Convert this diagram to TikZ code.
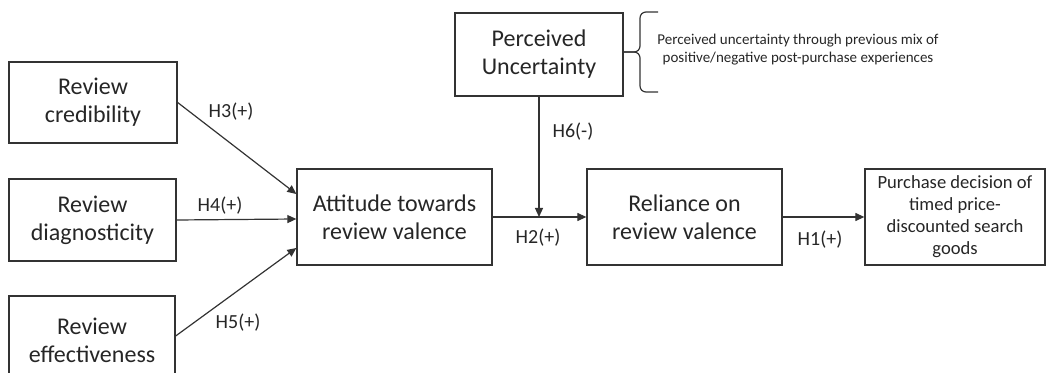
\documentclass[tikz,border=0pt]{standalone}
\usepackage{fontspec}
\setmainfont{Carlito}
\usetikzlibrary{arrows.meta, decorations.pathreplacing, positioning}

\begin{document}
\begin{tikzpicture}[x=0.5pt, y=-0.5pt,
    box/.style={draw=black!80, line width=0.65pt, align=center, inner sep=0pt, text=black!85, font=\fontsize{12}{14}\selectfont},
    arr/.style={draw=black!80, line width=0.6pt, -{Triangle[length=4.5pt, width=4pt]}},
    hyp/.style={text=black!85, font=\fontsize{10}{12}\selectfont}]
\useasboundingbox (0,0) rectangle (1047,373);

\node[box, minimum width=84pt, minimum height=40.5pt] (cred) at (93,102.5) {Review\\credibility};
\node[box, minimum width=83.5pt, minimum height=41pt] (diag) at (92.5,220) {Review\\diagnosticity};
\node[box, minimum width=83pt, minimum height=44pt] (eff) at (92,340) {Review\\effectiveness};
\node[box, minimum width=97.5pt, minimum height=48pt] (att) at (394.5,217) {Attitude towards\\review valence};
\node[box, minimum width=84pt, minimum height=41.5pt] (pu) at (539,54.5) {Perceived\\Uncertainty};
\node[box, minimum width=97.5pt, minimum height=48pt] (rel) at (684.5,217) {Reliance on\\review valence};
\node[box, minimum width=90pt, minimum height=48pt, font=\fontsize{9.3}{11}\selectfont] (pur) at (955,217) {Purchase decision of\\timed price-\\discounted search\\goods};

\draw[arr] (cred.east) -- ([yshift=11.5pt]att.west);
\draw[arr] (diag.east) -- ([yshift=-1pt]att.west);
\draw[arr] ([yshift=2pt]eff.east) -- ([yshift=-15.5pt]att.west);
\draw[arr] (att.east) -- (rel.west);
\draw[arr] (pu.south) -- (pu.south |- att.east);
\draw[arr] (rel.east) -- (pur.west);

\node[hyp] (h3) at (231,112) {H3(+)};
\node[hyp] (h4) at (220,206) {H4(+)};
\node[hyp] (h5) at (238,323) {H5(+)};
\node[hyp] (h2) at (538,238) {H2(+)};
\node[hyp] (h6) at (573,132) {H6(-)};
\node[hyp] (h1) at (820,240) {H1(+)};

\draw[black!80, line width=0.6pt, rounded corners=3pt] (658,12) -- (640,12) -- (640,52) -- (624,52);
\draw[black!80, line width=0.6pt, rounded corners=3pt] (658,92) -- (640,92) -- (640,52) -- (624,52);
\node[text=black!85, font=\fontsize{7.5}{9}\selectfont, align=center] (note) at (798,50) {Perceived uncertainty through previous mix of\\positive/negative post-purchase experiences};
\end{tikzpicture}
\end{document}
